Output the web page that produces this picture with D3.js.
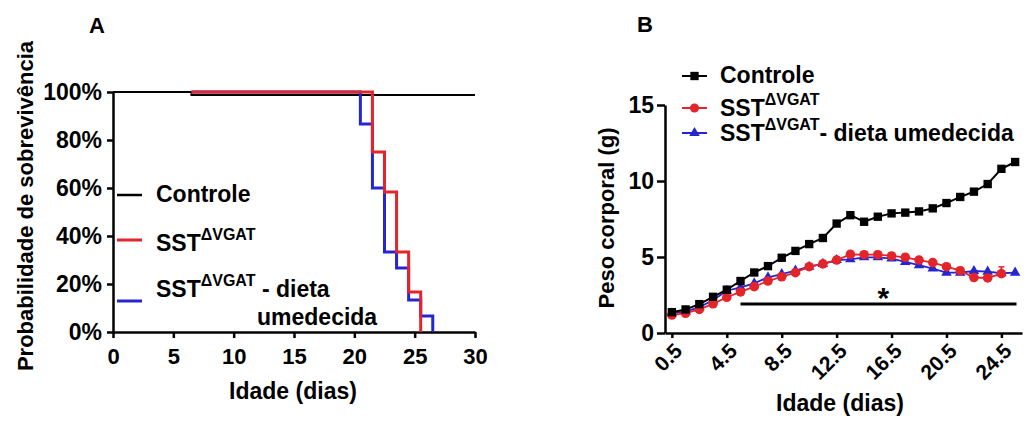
<!DOCTYPE html>
<html>
<head>
<meta charset="utf-8">
<script src="https://cdn.jsdelivr.net/npm/d3@7"></script>
<style>
body { margin: 0; background: #fff; }
text { font-family: "Liberation Sans", Arial, sans-serif; font-weight: bold; }
</style>
</head>
<body>
<svg id="chart" width="1031" height="421"></svg>
<script>

// ---- panel A: survival (Kaplan-Meier) ----
var survDayTicks = [0, 5, 10, 15, 20, 25, 30]
var survPctTicks = [0, 20, 40, 60, 80, 100]

var ctrlSurvDays = [0, 6.5, 30]
var ctrlSurv = [100, 98.8, 98.8]
var sstSurvDays = [6.5, 21.5, 22.5, 23.5, 24.5, 25.5]
var sstSurv = [100, 75, 58.3, 33.3, 16.7, 0]
var dietSurvDays = [6.5, 20.5, 21.5, 22.5, 23.5, 24.5, 25.5, 26.5]
var dietSurv = [100, 86.7, 60, 33.3, 26.7, 13.3, 6.7, 0]

// ---- panel B: body weight ----
var days = [0.5, 1.5, 2.5, 3.5, 4.5, 5.5, 6.5, 7.5, 8.5, 9.5, 10.5, 11.5, 12.5,
            13.5, 14.5, 15.5, 16.5, 17.5, 18.5, 19.5, 20.5, 21.5, 22.5, 23.5, 24.5, 25.5]
var dayTicks = [0.5, 4.5, 8.5, 12.5, 16.5, 20.5, 24.5]
var weightTicks = [0, 5, 10, 15]

var ctrlWeight = [1.37, 1.55, 1.9, 2.38, 2.85, 3.42, 3.98, 4.4, 4.95, 5.4, 5.85, 6.25, 7.2,
                  7.75, 7.32, 7.65, 7.87, 7.92, 8.0, 8.2, 8.55, 8.95, 9.3, 9.8, 10.8, 11.25]
var sstWeight = [1.18, 1.3, 1.55, 1.92, 2.35, 2.7, 3.05, 3.42, 3.7, 3.97, 4.36, 4.55, 4.8,
                 5.17, 5.15, 5.15, 5.07, 4.98, 4.8, 4.63, 4.36, 4.1, 3.65, 3.62, 3.9]
var sstErr = [0.05, 0.05, 0.08, 0.1, 0.1, 0.12, 0.12, 0.15, 0.15, 0.15, 0.15, 0.15, 0.2,
              0.2, 0.2, 0.2, 0.2, 0.2, 0.2, 0.2, 0.2, 0.2, 0.2, 0.2, 0.45]
var dietWeight = [1.3, 1.4, 1.7, 2.15, 2.78, 3.0, 3.27, 3.66, 3.88, 4.1, 4.36, 4.55, 4.8,
                  4.85, 4.98, 4.98, 4.9, 4.68, 4.46, 4.24, 3.97, 3.97, 4.08, 4.04, 3.93, 3.97]
var sigDays = [5.5, 25.6]
var sigLevel = 1.9
var sigStarDay = 15.9

var RED = "#e3242b"
var BLUE = "#2626d0"

var svg = d3.select("#chart")

svg.append("rect").attr("width", 1031).attr("height", 421).attr("fill", "#fff")

// ================= Panel A =================
var xA = d3.scaleLinear().domain([0, 30]).range([113, 475])
var yA = d3.scaleLinear().domain([0, 100]).range([332, 92])

var xAxisA = d3.axisBottom(xA).tickValues(survDayTicks).tickSize(6).tickSizeOuter(0).tickPadding(10)
var yAxisA = d3.axisLeft(yA).tickValues(survPctTicks).tickSize(6).tickSizeOuter(0).tickPadding(5)
                .tickFormat(function(d){ return d + "%" })

function styleAxis(g, size){
    g.select(".domain").attr("stroke", "#000").attr("stroke-width", 2.5)
    g.selectAll(".tick line").attr("stroke", "#000").attr("stroke-width", 2.5)
    g.selectAll("text").attr("fill", "#000").style("font-size", size + "px")
        .style("font-family", "'Liberation Sans', Arial, sans-serif").style("font-weight", "bold")
}

svg.append("g").attr("transform", "translate(0,332)").call(xAxisA).call(styleAxis, 22)
svg.append("g").attr("transform", "translate(113,0)").call(yAxisA).call(styleAxis, 23)

function survLine(ds, ss){
    var pts = ds.map(function(d, i){ return [d, ss[i]] })
    return d3.line().curve(d3.curveStepAfter)
        .x(function(d){ return xA(d[0]) })
        .y(function(d){ return yA(d[1]) })(pts)
}

svg.append("path").attr("d", survLine(ctrlSurvDays, ctrlSurv))
    .attr("fill", "none").attr("stroke", "#000").attr("stroke-width", 2)
svg.append("path").attr("d", survLine(dietSurvDays, dietSurv))
    .attr("fill", "none").attr("stroke", BLUE).attr("stroke-width", 3)
svg.append("path").attr("d", survLine(sstSurvDays, sstSurv))
    .attr("fill", "none").attr("stroke", RED).attr("stroke-width", 3)

svg.append("text").attr("x", 89).attr("y", 33).style("font-size", "22px").text("A")

svg.append("text").attr("transform", "translate(33,206) rotate(-90)")
    .attr("text-anchor", "middle").style("font-size", "22px")
    .text("Probabilidade de sobrevivência")

svg.append("text").attr("x", 293).attr("y", 399).attr("text-anchor", "middle")
    .style("font-size", "23px").text("Idade (dias)")

// legend A
var legA = svg.append("g")
var legARows = [
    {color: "#000", y: 195, w: 2.5},
    {color: RED, y: 240, w: 3},
    {color: BLUE, y: 301, w: 3}
]
legA.selectAll("line").data(legARows).enter().append("line")
    .attr("x1", 117).attr("x2", 142)
    .attr("y1", function(d){ return d.y }).attr("y2", function(d){ return d.y })
    .attr("stroke", function(d){ return d.color }).attr("stroke-width", function(d){ return d.w })

legA.append("text").attr("x", 156).attr("y", 202).style("font-size", "23px").text("Controle")

var t2 = legA.append("text").attr("x", 156).attr("y", 251).style("font-size", "23px")
t2.append("tspan").text("SST")
t2.append("tspan").attr("dy", -11).style("font-size", "16px").text("ΔVGAT")

var t3 = legA.append("text").attr("x", 156).attr("y", 297).style("font-size", "23px")
t3.append("tspan").text("SST")
t3.append("tspan").attr("dy", -11).style("font-size", "16px").text("ΔVGAT")
t3.append("tspan").attr("dy", 11).text(" - dieta")
legA.append("text").attr("x", 257).attr("y", 325).style("font-size", "23px").text("umedecida")

// ================= Panel B =================
var xB = d3.scaleLinear().domain([0, 26]).range([665, 1022])
var yB = d3.scaleLinear().domain([0, 15]).range([333, 105])

var xAxisB = d3.axisBottom(xB).tickValues(dayTicks).tickSize(5).tickSizeOuter(0)
                .tickFormat(d3.format(".1f"))
var yAxisB = d3.axisLeft(yB).tickValues(weightTicks).tickSize(8).tickSizeOuter(0).tickPadding(3)

var gxB = svg.append("g").attr("transform", "translate(0,333)").call(xAxisB).call(styleAxis, 21)
gxB.selectAll("text")
    .attr("text-anchor", "end")
    .attr("x", 0).attr("y", 0).attr("dy", "0.35em")
    .attr("transform", "translate(6,14) rotate(-45)")
svg.append("g").attr("transform", "translate(665,0)").call(yAxisB).call(styleAxis, 23)

// significance bar
svg.append("line")
    .attr("x1", xB(sigDays[0])).attr("x2", xB(sigDays[1]))
    .attr("y1", yB(sigLevel)).attr("y2", yB(sigLevel))
    .attr("stroke", "#000").attr("stroke-width", 3)
svg.append("text").attr("x", xB(sigStarDay)).attr("y", yB(sigLevel) + 4)
    .attr("text-anchor", "middle").style("font-size", "30px").text("*")

function weightSeries(vals){
    return vals.map(function(v, i){ return [days[i], v] })
}
var wLine = d3.line().x(function(d){ return xB(d[0]) }).y(function(d){ return yB(d[1]) })

var triangle = d3.symbol().type(d3.symbolTriangle).size(48)
var square = d3.symbol().type(d3.symbolSquare).size(70)

// blue: SST dieta umedecida
var dietPts = weightSeries(dietWeight)
svg.append("path").attr("d", wLine(dietPts)).attr("fill", "none").attr("stroke", BLUE).attr("stroke-width", 1.8)
svg.append("g").selectAll("path").data(dietPts).enter().append("path")
    .attr("d", triangle)
    .attr("transform", function(d){ return "translate(" + xB(d[0]) + "," + yB(d[1]) + ")" })
    .attr("fill", BLUE)

// red: SST
var sstPts = weightSeries(sstWeight)
svg.append("g").selectAll("line").data(sstPts).enter().append("line")
    .attr("x1", function(d){ return xB(d[0]) }).attr("x2", function(d){ return xB(d[0]) })
    .attr("y1", function(d){ return yB(d[1]) })
    .attr("y2", function(d, i){ return yB(d[1] + sstErr[i]) })
    .attr("stroke", RED).attr("stroke-width", 1.5)
svg.append("g").selectAll("line").data(sstPts).enter().append("line")
    .attr("x1", function(d){ return xB(d[0]) - 3 }).attr("x2", function(d){ return xB(d[0]) + 3 })
    .attr("y1", function(d, i){ return yB(d[1] + sstErr[i]) })
    .attr("y2", function(d, i){ return yB(d[1] + sstErr[i]) })
    .attr("stroke", RED).attr("stroke-width", 1.5)
svg.append("path").attr("d", wLine(sstPts)).attr("fill", "none").attr("stroke", RED).attr("stroke-width", 1.8)
svg.append("g").selectAll("circle").data(sstPts).enter().append("circle")
    .attr("cx", function(d){ return xB(d[0]) }).attr("cy", function(d){ return yB(d[1]) })
    .attr("r", 4.8).attr("fill", RED)

// black: controle
var ctrlPts = weightSeries(ctrlWeight)
svg.append("path").attr("d", wLine(ctrlPts)).attr("fill", "none").attr("stroke", "#000").attr("stroke-width", 2)
svg.append("g").selectAll("path").data(ctrlPts).enter().append("path")
    .attr("d", square)
    .attr("transform", function(d){ return "translate(" + xB(d[0]) + "," + yB(d[1]) + ")" })
    .attr("fill", "#000")

svg.append("text").attr("x", 637).attr("y", 32).style("font-size", "22px").text("B")

svg.append("text").attr("transform", "translate(614,218) rotate(-90)")
    .attr("text-anchor", "middle").style("font-size", "22px")
    .text("Peso corporal (g)")

svg.append("text").attr("x", 840).attr("y", 411).attr("text-anchor", "middle")
    .style("font-size", "23px").text("Idade (dias)")

// legend B
var legB = svg.append("g")
var legBRows = [
    {color: "#000", y: 76, sym: square},
    {color: RED, y: 108, sym: null},
    {color: BLUE, y: 133, sym: triangle}
]
legB.selectAll("line").data(legBRows).enter().append("line")
    .attr("x1", 682).attr("x2", 707)
    .attr("y1", function(d){ return d.y }).attr("y2", function(d){ return d.y })
    .attr("stroke", function(d){ return d.color }).attr("stroke-width", 2)
legBRows.forEach(function(r){
    if(r.sym){
        legB.append("path").attr("d", r.sym)
            .attr("transform", "translate(694.5," + r.y + ")").attr("fill", r.color)
    } else {
        legB.append("circle").attr("cx", 694.5).attr("cy", r.y).attr("r", 4.5).attr("fill", r.color)
    }
})

legB.append("text").attr("x", 720).attr("y", 83).style("font-size", "23px").text("Controle")
var b2 = legB.append("text").attr("x", 720).attr("y", 116).style("font-size", "23px")
b2.append("tspan").text("SST")
b2.append("tspan").attr("dy", -11).style("font-size", "16px").text("ΔVGAT")
var b3 = legB.append("text").attr("x", 720).attr("y", 141).style("font-size", "23px")
b3.append("tspan").text("SST")
b3.append("tspan").attr("dy", -11).style("font-size", "16px").text("ΔVGAT")
b3.append("tspan").attr("dy", 11).text("- dieta umedecida")

</script>
</body>
</html>
